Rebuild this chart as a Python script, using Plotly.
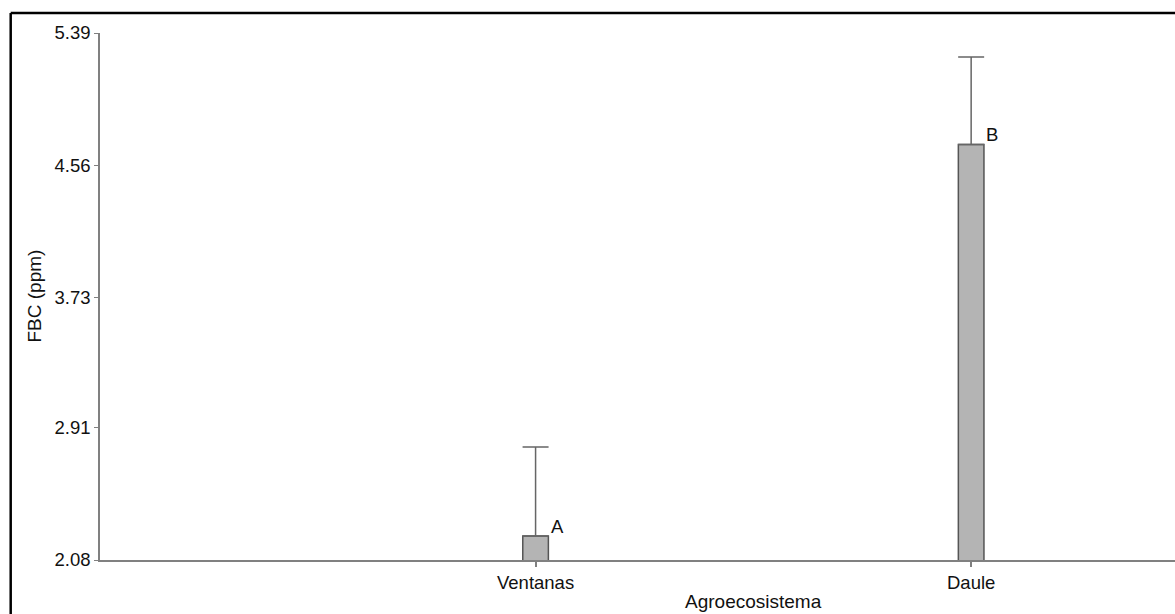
import plotly.graph_objects as go

categories = ["Ventanas", "Daule"]
means = [2.23, 4.69]
errors_up = [0.56, 0.55]
letters = ["A", "B"]
y_ticks = [2.08, 2.91, 3.73, 4.56, 5.39]
y_tick_labels = ["2.08", "2.91", "3.73", "4.56", "5.39"]

L, R, T, B = 100, 0, 33, 54
W, H = 1175, 614
pw = W - L - R
ph = H - T - B

fig = go.Figure()
fig.add_trace(go.Bar(
    x=categories, y=means, width=0.0588,
    marker=dict(color="#b4b4b4", line=dict(color="#555555", width=1.5)),
    error_y=dict(type="data", symmetric=False, array=errors_up,
                 arrayminus=[0] * len(means), color="#666666", thickness=1.5, width=13),
    showlegend=False, hoverinfo="skip",
))

annotations = []
for c, m, l in zip(categories, means, letters):
    annotations.append(dict(x=c, y=m, text=l, showarrow=False, xanchor="left", yanchor="middle",
                            xshift=13, yshift=10, font=dict(size=18.5, color="#111")))

annotations.append(dict(xref="paper", yref="paper", x=(753 - L) / pw, y=(H - B - 601) / ph,
                        text="Agroecosistema", showarrow=False, xanchor="center", yanchor="middle",
                        font=dict(size=19, color="#111")))
annotations.append(dict(xref="paper", yref="paper", x=(34 - L) / pw, y=(H - B - 296.5) / ph,
                        text="FBC (ppm)", showarrow=False, textangle=-90, xanchor="center", yanchor="middle",
                        font=dict(size=19, color="#111")))

bx = (10.7 - L) / pw
by = 1 + (T - 13) / ph
shapes = [
    dict(type="line", xref="paper", yref="paper", x0=bx, x1=1.05, y0=by, y1=by,
         line=dict(color="black", width=2.5)),
    dict(type="line", xref="paper", yref="paper", x0=bx, x1=bx, y0=by, y1=-0.3,
         line=dict(color="black", width=2.5)),
]

fig.update_layout(
    width=W, height=H,
    margin=dict(l=L, r=R, t=T, b=B, pad=0),
    plot_bgcolor="white", paper_bgcolor="white",
    font=dict(family="Liberation Sans, Arial, sans-serif", size=18.5, color="#111"),
    annotations=annotations, shapes=shapes,
    xaxis=dict(type="category", range=[-1.0, 1.468], showgrid=False, zeroline=False,
               showline=True, linecolor="#808080", linewidth=1.5,
               ticks="outside", ticklen=5, tickcolor="#808080", tickwidth=1.5,
               tickfont=dict(size=18.5, color="#111")),
    yaxis=dict(range=[2.08, 5.39], showgrid=False, zeroline=False,
               showline=True, linecolor="#808080", linewidth=1.5,
               tickvals=y_ticks, ticktext=y_tick_labels,
               ticks="outside", ticklen=4, tickcolor="#808080", tickwidth=1,
               tickfont=dict(size=18.5, color="#111")),
)

fig.write_html("out.html", config={"displayModeBar": False},
               post_script="document.body.style.margin='0';document.body.style.padding='0';document.body.style.overflow='hidden';")
